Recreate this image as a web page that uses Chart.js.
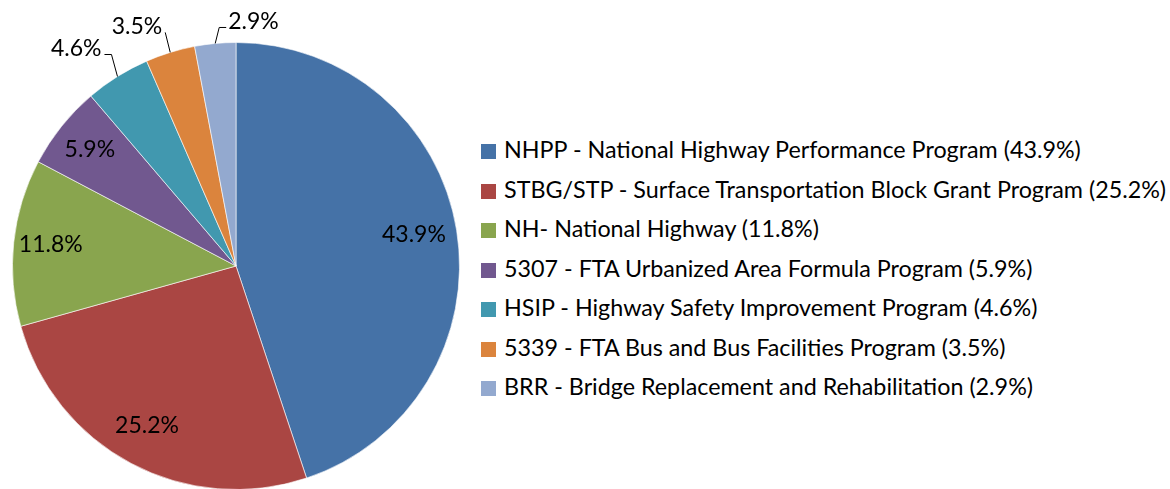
<!DOCTYPE html>
<html>
<head>
<meta charset="utf-8">
<script src="https://cdn.jsdelivr.net/npm/chart.js@4/dist/chart.umd.min.js"></script>
<style>
  html, body { margin: 0; padding: 0; background: #fff; overflow: hidden; }
  #wrap { position: relative; width: 1170px; height: 489px; }
  #pieBox { position: absolute; left: 0; top: 0; width: 480px; height: 490px; }
  #legend { position: absolute; left: 481px; top: 130px; font-family: Lato, sans-serif; font-size: 23.3px; color: #000; }
  #legend .row { height: 39.5px; line-height: 39.5px; white-space: nowrap; }
  #legend .sw { display: inline-block; width: 15px; height: 15px; margin-right: 8px; vertical-align: -1px; }
</style>
</head>
<body>
<div id="wrap">
  <div id="pieBox"><canvas id="pie"></canvas></div>
  <div id="legend"></div>
</div>
<script>
let categories = [
    'NHPP - National Highway Performance Program',
    'STBG/STP - Surface Transportation Block Grant Program',
    'NH- National Highway',
    '5307 - FTA Urbanized Area Formula Program',
    'HSIP - Highway Safety Improvement Program',
    '5339 - FTA Bus and Bus Facilities Program',
    'BRR - Bridge Replacement and Rehabilitation'
];
let shares = [43.9, 25.2, 11.8, 5.9, 4.6, 3.5, 2.9];
let colors = ['#4572A7', '#AA4643', '#89A54E', '#71588F', '#4198AF', '#DB843D', '#93A9CF'];

// leader layout for the small slices that get their label outside
let outside = {
    4: { dx: -6, dy: -22, tail: -7, align: 'right' },
    5: { dx: -5, dy: -20, tail: 0, align: 'right' },
    6: { dx: 4, dy: -16, tail: 7, align: 'left' }
};

function fmt(v) {
    return v.toFixed(1) + '%';
}

const labelPlugin = {
    id: 'sliceLabels',
    afterDatasetsDraw(chart) {
        const ctx = chart.ctx;
        const meta = chart.getDatasetMeta(0);
        ctx.save();
        ctx.font = '23px Lato, sans-serif';
        ctx.fillStyle = '#000';
        ctx.strokeStyle = '#000';
        ctx.lineWidth = 1;
        meta.data.forEach((arc, i) => {
            const p = arc.getProps(['x', 'y', 'startAngle', 'endAngle', 'outerRadius'], true);
            const mid = (p.startAngle + p.endAngle) / 2;
            const txt = fmt(shares[i]);
            if (outside[i]) {
                const o = outside[i];
                const ax = p.x + Math.cos(mid) * p.outerRadius;
                const ay = p.y + Math.sin(mid) * p.outerRadius;
                const ex = ax + o.dx, ey = ay + o.dy;
                const tx = ex + o.tail;
                ctx.beginPath();
                ctx.moveTo(ax, ay);
                ctx.lineTo(ex, ey);
                if (o.tail) ctx.lineTo(tx, ey);
                ctx.stroke();
                ctx.textAlign = o.align;
                ctx.textBaseline = 'middle';
                const gap = o.align === 'left' ? 2 : -3;
                ctx.fillText(txt, tx + gap, ey - 6);
            } else {
                const r = p.outerRadius * 0.82;
                ctx.textAlign = 'center';
                ctx.textBaseline = 'middle';
                ctx.fillText(txt, p.x + Math.cos(mid) * r - 3, p.y + Math.sin(mid) * r - 2);
            }
        });
        ctx.restore();
    }
};

new Chart(document.getElementById('pie').getContext('2d'), {
    type: 'pie',
    data: {
        labels: categories,
        datasets: [{
            data: shares,
            backgroundColor: colors,
            borderColor: 'rgba(255,255,255,0.6)',
            borderWidth: 1
        }]
    },
    options: {
        responsive: true,
        maintainAspectRatio: false,
        animation: false,
        layout: { padding: { left: 12, top: 42, right: 20, bottom: 0 } },
        plugins: {
            legend: { display: false },
            tooltip: { enabled: false }
        }
    },
    plugins: [labelPlugin]
});

let legend = document.getElementById('legend');
categories.forEach((c, i) => {
    let row = document.createElement('div');
    row.className = 'row';
    row.innerHTML = '<span class="sw" style="background:' + colors[i] + '"></span>' + c + ' (' + fmt(shares[i]) + ')';
    legend.appendChild(row);
});
</script>
</body>
</html>
